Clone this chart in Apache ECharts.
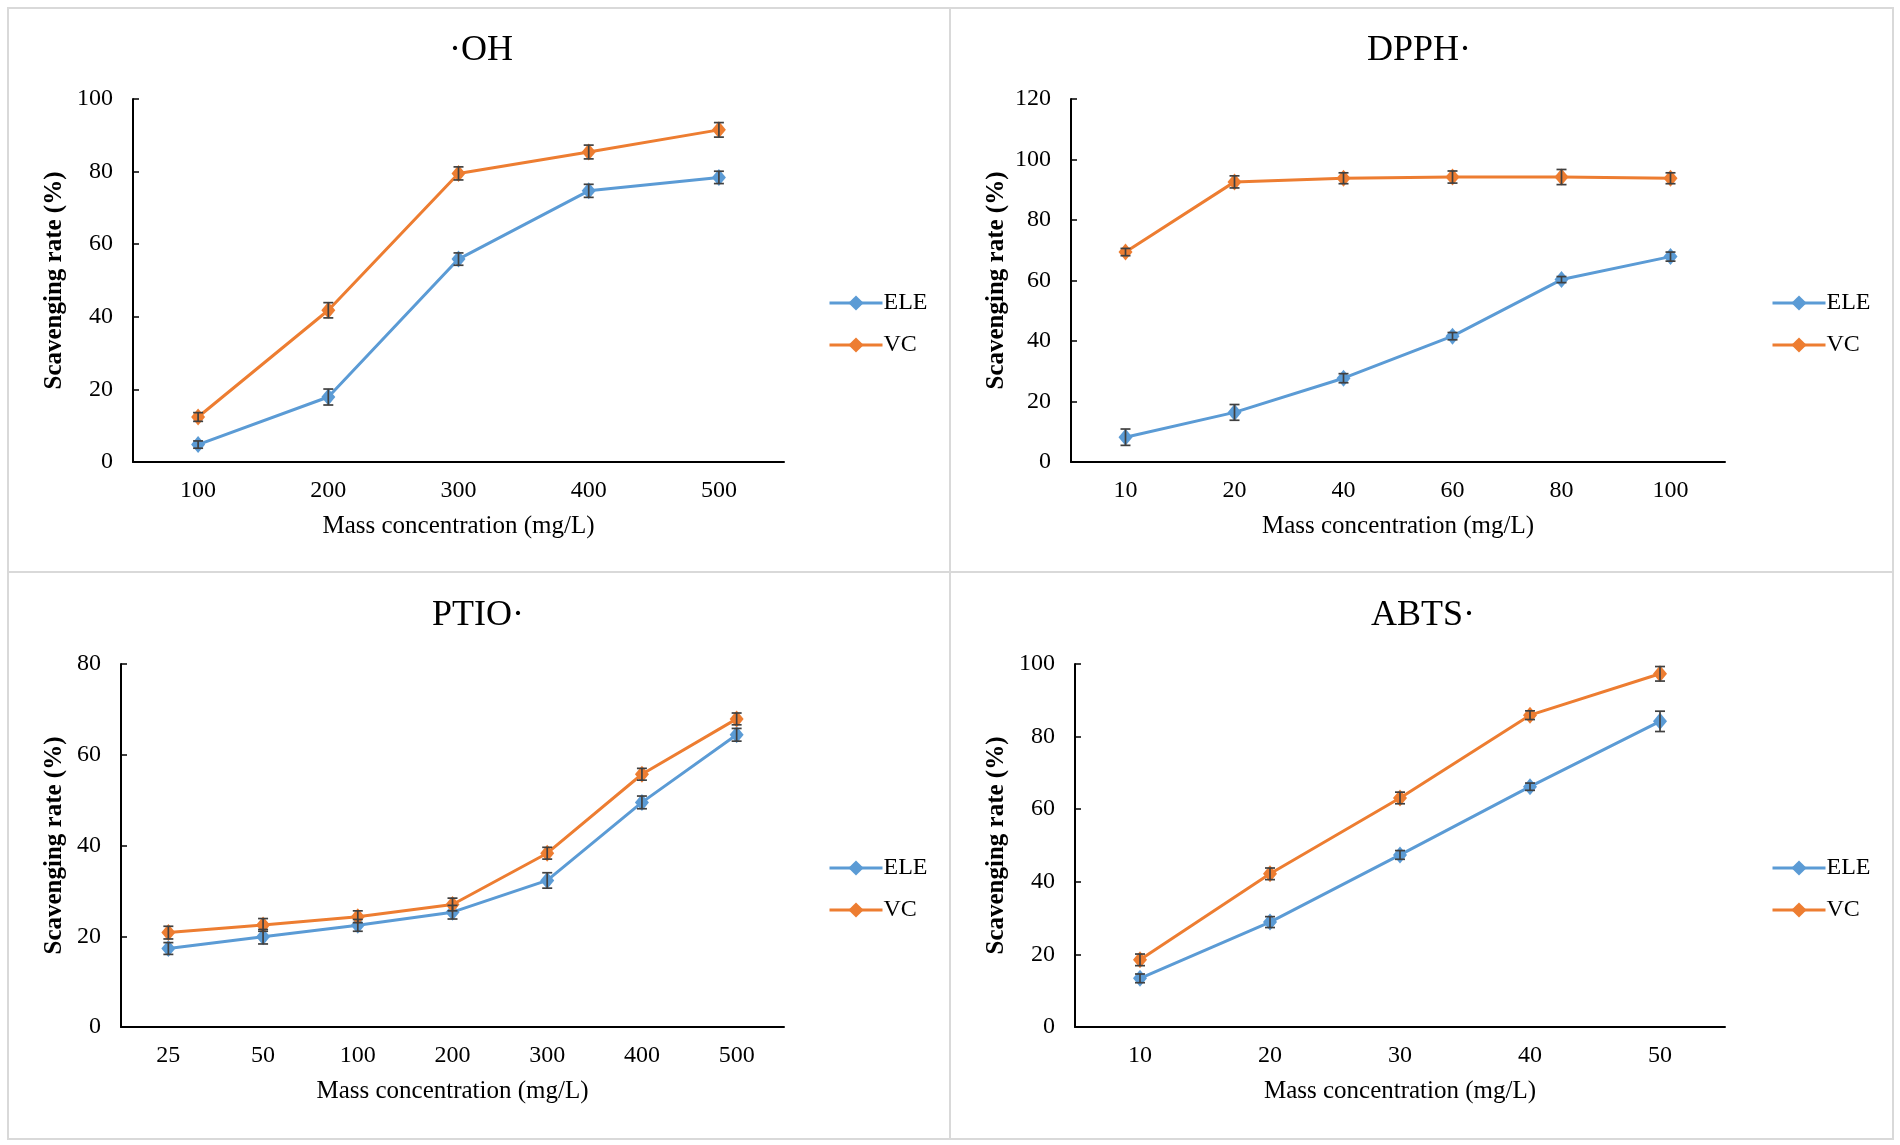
<!DOCTYPE html>
<html>
<head>
<meta charset="utf-8">
<script src="https://cdn.jsdelivr.net/npm/echarts@6/dist/echarts.min.js"></script>
<style>
html,body{margin:0;padding:0;background:#fff;}
#chart{width:1900px;height:1145px;}
</style>
</head>
<body>
<div id="chart"></div>
<script>
// ---- Data ----
const ohCats = ['100', '200', '300', '400', '500'];
const ohELE = [4.8, 17.9, 55.9, 74.7, 78.4];
const ohELEErr = [1.0, 2.2, 1.7, 1.8, 1.7];
const ohVC = [12.4, 41.8, 79.5, 85.4, 91.5];
const ohVCErr = [1.2, 2.1, 1.8, 1.9, 2.0];

const dpphCats = ['10', '20', '40', '60', '80', '100'];
const dpphELE = [8.2, 16.4, 27.7, 41.6, 60.3, 67.9];
const dpphELEErr = [2.7, 2.6, 1.5, 1.2, 1.0, 1.5];
const dpphVC = [69.4, 92.6, 93.8, 94.2, 94.2, 93.8];
const dpphVCErr = [1.2, 2.0, 1.8, 2.0, 2.5, 1.8];

const ptioCats = ['25', '50', '100', '200', '300', '400', '500'];
const ptioELE = [17.3, 19.9, 22.4, 25.3, 32.3, 49.5, 64.4];
const ptioELEErr = [1.3, 1.6, 1.3, 1.5, 1.7, 1.4, 1.4];
const ptioVC = [20.8, 22.5, 24.3, 27.0, 38.3, 55.7, 67.9];
const ptioVCErr = [1.4, 1.4, 1.3, 1.4, 1.3, 1.3, 1.3];

const abtsCats = ['10', '20', '30', '40', '50'];
const abtsELE = [13.4, 28.9, 47.4, 66.2, 84.2];
const abtsELEErr = [1.2, 1.5, 1.2, 1.0, 2.8];
const abtsVC = [18.5, 42.2, 63.1, 85.9, 97.3];
const abtsVCErr = [1.6, 1.6, 1.6, 1.2, 2.0];

const titles = ['·OH', 'DPPH·', 'PTIO·', 'ABTS·'];
const yMax = [100, 120, 80, 100];
const xName = 'Mass concentration (mg/L)';
const yName = 'Scavenging rate (%)';

// ---- Layout ----
const FONT = '"Liberation Serif", "Times New Roman", serif';
const BLUE = '#5B9BD5', ORANGE = '#ED7D31';
const panels = [
  {cats: ohCats, ele: ohELE, eleErr: ohELEErr, vc: ohVC, vcErr: ohVCErr,
   grid: {left: 133, top: 99, width: 651, height: 363}, titleX: 476, titleY: 28, yGap: 66, legendX: 823, legendY: 286},
  {cats: dpphCats, ele: dpphELE, eleErr: dpphELEErr, vc: dpphVC, vcErr: dpphVCErr,
   grid: {left: 1071, top: 99, width: 654, height: 363}, titleX: 1414, titleY: 28, yGap: 62, legendX: 1766, legendY: 286},
  {cats: ptioCats, ele: ptioELE, eleErr: ptioELEErr, vc: ptioVC, vcErr: ptioVCErr,
   grid: {left: 121, top: 664, width: 663, height: 363}, titleX: 473, titleY: 593, yGap: 54, legendX: 823, legendY: 851},
  {cats: abtsCats, ele: abtsELE, eleErr: abtsELEErr, vc: abtsVC, vcErr: abtsVCErr,
   grid: {left: 1075, top: 664, width: 650, height: 363}, titleX: 1418, titleY: 593, yGap: 66, legendX: 1766, legendY: 851}
];

function errRender(params, api) {
  const x = api.value(0);
  const lo = api.coord([x, api.value(1)]);
  const hi = api.coord([x, api.value(2)]);
  const hw = 5;
  const st = {stroke: '#404040', lineWidth: 1.7};
  return {
    type: 'group',
    children: [
      {type: 'line', shape: {x1: lo[0], y1: lo[1], x2: hi[0], y2: hi[1]}, style: st},
      {type: 'line', shape: {x1: lo[0] - hw, y1: lo[1], x2: lo[0] + hw, y2: lo[1]}, style: st},
      {type: 'line', shape: {x1: hi[0] - hw, y1: hi[1], x2: hi[0] + hw, y2: hi[1]}, style: st}
    ]
  };
}

const option = {
  backgroundColor: '#fff',
  animation: false,
  title: [], legend: [], grid: [], xAxis: [], yAxis: [], series: [],
  graphic: [
    {type: 'rect', shape: {x: 8, y: 8, width: 1885, height: 1131}, style: {fill: 'none', stroke: '#d9d9d9', lineWidth: 2}},
    {type: 'line', shape: {x1: 950, y1: 8, x2: 950, y2: 1139}, style: {stroke: '#d9d9d9', lineWidth: 2}},
    {type: 'line', shape: {x1: 8, y1: 572, x2: 1893, y2: 572}, style: {stroke: '#d9d9d9', lineWidth: 2}}
  ]
};

panels.forEach((p, i) => {
  option.title.push({
    text: titles[i], left: p.titleX, top: p.titleY, textAlign: 'center',
    textStyle: {fontFamily: FONT, fontSize: 36, fontWeight: 'normal', color: '#000'}
  });
  option.legend.push({
    data: ['ELE', 'VC'], orient: 'vertical', left: p.legendX, top: p.legendY,
    itemWidth: 53, itemHeight: 19, itemGap: 18,
    lineStyle: {width: 3},
    textStyle: {fontFamily: FONT, fontSize: 24, color: '#000', padding: [0, 0, 0, -4]}
  });
  option.grid.push(Object.assign({containLabel: false}, p.grid));
  option.xAxis.push({
    type: 'category', gridIndex: i, data: p.cats, boundaryGap: true,
    name: xName, nameLocation: 'middle', nameGap: 52,
    nameTextStyle: {fontFamily: FONT, fontSize: 25, color: '#000'},
    axisLine: {lineStyle: {color: '#000', width: 2}},
    axisTick: {alignWithLabel: true, inside: true, length: 6, lineStyle: {color: '#000', width: 1.5}},
    axisLabel: {fontFamily: FONT, fontSize: 24, color: '#000', margin: 17, interval: 0},
    splitLine: {show: false}
  });
  option.yAxis.push({
    type: 'value', gridIndex: i, min: 0, max: yMax[i], interval: 20,
    name: yName, nameLocation: 'middle', nameGap: p.yGap,
    nameTextStyle: {fontFamily: FONT, fontSize: 25, color: '#000', fontWeight: 'bold'},
    axisLine: {show: true, lineStyle: {color: '#000', width: 2}},
    axisTick: {show: true, inside: true, length: 6, lineStyle: {color: '#000', width: 1.5}},
    axisLabel: {fontFamily: FONT, fontSize: 24, color: '#000', margin: 20},
    splitLine: {show: false}
  });
  const mk = (name, vals, color) => ({
    name: name, type: 'line', xAxisIndex: i, yAxisIndex: i, data: vals,
    symbol: 'diamond', symbolSize: [14, 17], showSymbol: true,
    lineStyle: {color: color, width: 3}, itemStyle: {color: color}, z: 3
  });
  const mkErr = (name, vals, errs) => ({
    name: name, type: 'custom', xAxisIndex: i, yAxisIndex: i,
    renderItem: errRender, z: 5,
    data: vals.map((v, k) => [k, v - errs[k], v + errs[k]]),
    encode: {x: 0, y: [1, 2]}
  });
  option.series.push(mk('ELE', p.ele, BLUE));
  option.series.push(mk('VC', p.vc, ORANGE));
  option.series.push(mkErr('ELE', p.ele, p.eleErr));
  option.series.push(mkErr('VC', p.vc, p.vcErr));
});

const chart = echarts.init(document.getElementById('chart'));
chart.setOption(option);
</script>
</body>
</html>
